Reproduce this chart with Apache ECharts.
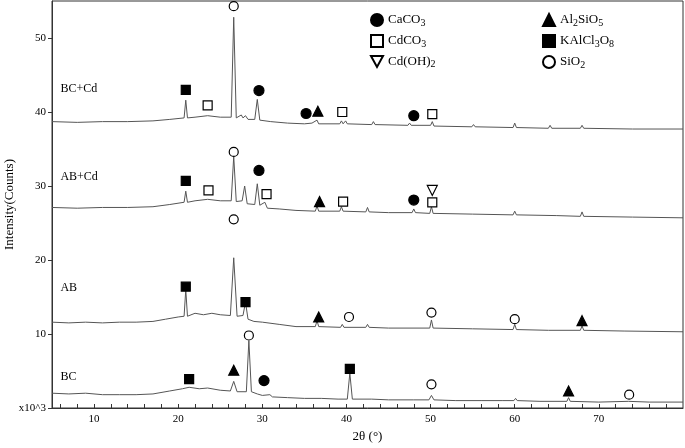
<!DOCTYPE html>
<html>
<head>
<meta charset="utf-8">
<style>html,body{margin:0;width:100%;height:100%;overflow:hidden;background:#fff}#c{width:685px;height:448px}</style>
</head>
<body>
<div id="c"></div>
<script src="https://cdn.jsdelivr.net/npm/echarts@6/dist/echarts.min.js"></script>
<script>
// traces, [2theta, counts x10^3]
var bc = [[5,2.0],[7,1.9],[9,2.0],[11,1.8],[13,1.8],[15,1.8],[17,1.9],[19,2.3],[20.5,2.6],[21.3,2.8],[22.5,2.6],[23.5,2.7],[25,2.4],[26.2,2.3],[26.6,3.6],[27,2.2],[28.1,2.2],[28.4,9.1],[28.7,2.2],[29.4,1.9],[29.6,2.0],[30,1.7],[30.9,1.8],[31.2,1.5],[33,1.4],[35,1.3],[37,1.3],[39,1.2],[40.1,1.2],[40.4,4.7],[40.7,1.2],[43,1.2],[45,1.1],[48,1.1],[49.8,1.1],[50.1,1.7],[50.4,1.1],[53,1.0],[56,1.0],[58.5,1.0],[59.9,1.0],[60.1,1.3],[60.3,1.0],[63,0.9],[66.2,0.9],[66.4,1.4],[66.6,0.9],[70,0.8],[73.5,0.9],[73.7,1.0],[76,0.8],[80,0.8]];
var ab = [[5,11.6],[7,11.5],[9,11.6],[11,11.5],[13,11.6],[15,11.6],[17,11.7],[18.5,12.0],[20,12.3],[20.7,12.4],[20.9,16.0],[21.1,12.4],[22,12.8],[23,12.6],[24,12.8],[25,12.6],[26.2,12.5],[26.6,20.3],[27,12.4],[27.7,12.5],[28,14.3],[28.3,12.0],[29,11.7],[30,11.6],[32,11.3],[34,11.0],[36.3,11.0],[36.5,11.8],[36.7,11.0],[39.3,10.9],[39.5,11.3],[39.7,10.9],[42.3,10.9],[42.5,11.3],[42.7,10.9],[45,10.8],[49.9,10.8],[50.1,11.9],[50.3,10.8],[55,10.7],[59.8,10.6],[60,11.3],[60.2,10.6],[64,10.5],[67.8,10.5],[68,11.1],[68.2,10.5],[73,10.4],[80,10.3]];
var abCd = [[5,27.1],[8,27.0],[11,27.1],[14,27.1],[17,27.2],[19,27.5],[20.7,27.8],[20.9,29.3],[21.1,27.8],[22,28.0],[23.5,28.2],[25,28.0],[26.3,28.0],[26.6,34.0],[26.9,27.9],[27.6,28.0],[27.9,30.0],[28.2,27.6],[29.1,27.5],[29.4,30.3],[29.7,27.4],[30.3,27.8],[30.6,27.0],[32,26.9],[34,26.7],[36.3,26.6],[36.5,27.3],[36.7,26.6],[39.2,26.6],[39.4,27.2],[39.6,26.6],[42.3,26.5],[42.5,27.1],[42.7,26.5],[45,26.4],[47.8,26.4],[48,26.9],[48.2,26.4],[49.9,26.3],[50.1,27.2],[50.3,26.3],[55,26.2],[59.8,26.1],[60,26.6],[60.2,26.1],[65,26.0],[67.8,25.9],[68,26.5],[68.2,25.9],[74,25.8],[80,25.7]];
var bcCd = [[5,38.7],[8,38.6],[11,38.7],[14,38.7],[17,38.8],[19,39.0],[20.7,39.2],[20.9,41.6],[21.1,39.2],[22,39.3],[23.5,39.5],[25,39.3],[26.3,39.3],[26.6,52.8],[26.9,39.2],[27.5,39.6],[27.7,39.2],[28,39.5],[28.3,39.0],[29.1,39.0],[29.4,41.7],[29.7,38.9],[31,38.7],[33,38.5],[35,38.4],[35.9,38.5],[36,38.6],[36.5,38.9],[36.7,38.4],[39.2,38.4],[39.4,38.8],[39.6,38.4],[39.9,38.8],[40.1,38.4],[43,38.3],[43.2,38.7],[43.4,38.3],[47.3,38.2],[47.5,38.5],[47.7,38.2],[50,38.2],[50.2,38.7],[50.4,38.1],[54.9,38.0],[55.1,38.3],[55.3,38.0],[59.8,37.9],[60,38.5],[60.2,37.9],[64,37.8],[64.2,38.2],[64.4,37.8],[67.8,37.8],[68,38.2],[68.2,37.8],[74,37.7],[80,37.7]];

// phase markers
var caco3 = [[29.6,42.9],[35.2,39.8],[48,39.5],[29.6,32.1],[48,28.1],[30.2,3.7]];
var al2sio5 = [[36.6,40.1],[36.8,27.9],[36.7,12.3],[68,11.8],[26.6,5.1],[66.4,2.3]];
var cdco3 = [[23.5,40.9],[39.5,40],[50.2,39.7],[23.6,29.4],[30.5,28.9],[39.6,27.9],[50.2,27.8]];
var kalcl3o8 = [[20.9,43],[20.9,30.7],[20.9,16.4],[28,14.3],[21.3,3.9],[40.4,5.3]];
var cdoh2 = [[50.2,29.4]];
var sio2 = [[26.6,54.3],[26.6,34.6],[26.6,25.5],[40.3,12.3],[50.1,12.9],[60,12.0],[28.4,9.8],[50.1,3.2],[73.6,1.8]];

var xLabels = [10,20,30,40,50,60,70];
var xTicks = [6,8,10,12,14,16,18,20,22,24,26,28,30,32,34,36,38,40,42,44,46,48,50,52,54,56,58,60,62,64,66,68,70,72,74,76,78];
var samples = [['BC+Cd',44],['AB+Cd',32],['AB',17],['BC',5]];

var font = 'Liberation Serif';
var ink = '#000';
var downTri = 'path://M0,0 L10,0 L5,9 Z';

function line(d) {
    return {type:'line', data:d, symbol:'none', lineStyle:{color:'#555', width:1}, silent:true, z:2};
}
function mark(name, d, sym, fill, size) {
    return {type:'scatter', name:name, data:d, symbol:sym, symbolSize:size,
        itemStyle:{color:fill ? ink : '#fff', borderColor:ink, borderWidth:1.2, opacity:1}, z:5};
}

var rich = {s:{fontSize:10, verticalAlign:'bottom', padding:[6,0,0,0], fontFamily:font, color:'#000'}};
function fmt(n) {
    return n.replace(/(\d)/g, '{s|$1}');
}

var chart = echarts.init(document.getElementById('c'));
chart.setOption({
    animation:false,
    textStyle:{fontFamily:font},
    grid:{left:52, right:2, top:1, bottom:40, outerBoundsMode:'none', containLabel:false, show:true, borderColor:'#333', borderWidth:1},
    xAxis:{type:'value', min:5, max:80, name:'2θ (°)', nameLocation:'middle', nameGap:22, nameMoveOverlap:false,
        nameTextStyle:{fontSize:13, color:'#000', fontFamily:font},
        axisLine:{onZero:false, lineStyle:{color:'#333'}},
        axisTick:{customValues:xTicks, inside:true, length:4, lineStyle:{color:'#333'}},
        axisLabel:{customValues:xLabels, color:'#000', fontSize:11, margin:6},
        splitLine:{show:false}},
    yAxis:{type:'value', min:0, max:55, interval:10, name:'Intensity(Counts)', nameLocation:'middle', nameGap:36, nameMoveOverlap:false,
        nameTextStyle:{fontSize:13, color:'#000', fontFamily:font},
        axisLine:{lineStyle:{color:'#333'}},
        axisTick:{inside:false, length:4, lineStyle:{color:'#333'}},
        axisLabel:{color:'#000', fontSize:11, margin:6, showMaxLabel:false, formatter:function(v){return v === 0 ? 'x10^3' : v;}},
        splitLine:{show:false}},
    legend:[
        {left:365, top:8, orient:'vertical', itemGap:6, itemWidth:12, itemHeight:12, data:['CaCO3','CdCO3','Cd(OH)2'],
            textStyle:{fontSize:13, color:'#000', rich:rich}, formatter:fmt},
        {left:537, top:8, orient:'vertical', itemGap:6, itemWidth:12, itemHeight:12, data:['Al2SiO5','KAlCl3O8','SiO2'],
            textStyle:{fontSize:13, color:'#000', rich:rich}, formatter:fmt}
    ],
    series:[
        line(bc), line(ab), line(abCd), line(bcCd),
        mark('CaCO3', caco3, 'circle', true, 10),
        mark('Al2SiO5', al2sio5, 'triangle', true, 10),
        mark('CdCO3', cdco3, 'rect', false, 9),
        mark('KAlCl3O8', kalcl3o8, 'rect', true, 9),
        mark('Cd(OH)2', cdoh2, downTri, false, 10),
        mark('SiO2', sio2, 'circle', false, 9)
    ]
});
// sample names placed at data coords
chart.setOption({graphic:samples.map(function(s){
    var p = chart.convertToPixel({gridIndex:0}, [6, s[1]]);
    return {type:'text', x:p[0], y:p[1], silent:true, style:{text:s[0], font:'12px "Liberation Serif"', fill:'#000'}};
})});
</script>
</body>
</html>
